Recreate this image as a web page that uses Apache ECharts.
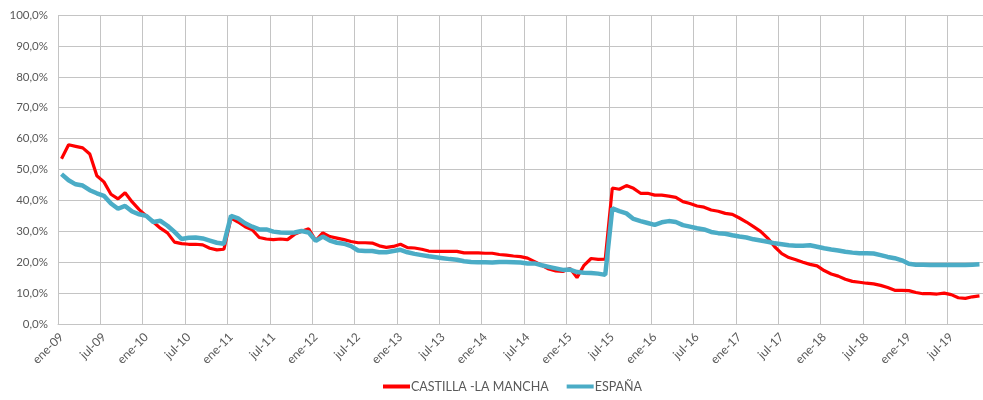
<!DOCTYPE html>
<html>
<head>
<meta charset="utf-8">
<script src="https://cdn.jsdelivr.net/npm/echarts@6/dist/echarts.min.js"></script>
<style>
html,body{margin:0;padding:0;background:#fff;}
#chart{width:983px;height:400px;}
</style>
</head>
<body>
<div id="chart"></div>
<script>
const monthNames = ['ene','feb','mar','abr','may','jun','jul','ago','sep','oct','nov','dic'];
const years = ['09','10','11','12','13','14','15','16','17','18','19'];
const lastMonthCount = 11; // data ends nov-19
const categories = [];
years.forEach((y, yi) => {
  const n = yi === years.length - 1 ? lastMonthCount : 12;
  for (let m = 0; m < n; m++) categories.push(monthNames[m] + '-' + y);
});

const castillaLaMancha = [
  53.5, 58, 57.5, 57, 55, 48, 46, 42, 40.5, 42.5, 39.5, 37,
  35, 33, 31, 29.5, 26.5, 26, 25.8, 25.8, 25.6, 24.5, 24, 24.2,
  34.3, 33, 31.5, 30.5, 28, 27.5, 27.3, 27.5, 27.3, 29, 30, 30.8,
  27, 29.5, 28.3, 27.8, 27.3, 26.7, 26.3, 26.3, 26.2, 25.3, 24.8, 25.1,
  25.8, 24.7, 24.6, 24.2, 23.6, 23.5, 23.5, 23.5, 23.5, 23, 23, 23,
  22.9, 22.9, 22.5, 22.3, 22, 21.8, 21.3, 20.2, 19, 17.8, 17.2, 17,
  18, 15, 19, 21.2, 20.9, 21, 44, 43.6, 44.8, 43.9, 42.3, 42.3,
  41.7, 41.7, 41.4, 41, 39.6, 39, 38.2, 37.8, 36.9, 36.5, 35.8, 35.5,
  34.3, 33, 31.5, 30, 27.8, 25, 22.8, 21.5, 20.8, 20, 19.3, 18.8,
  17.3, 16.2, 15.5, 14.5, 13.8, 13.5, 13.2, 13, 12.5, 11.8, 10.9, 10.9,
  10.8, 10.2, 9.8, 9.8, 9.7, 10, 9.5, 8.5, 8.3, 8.8, 9.1
];

const espana = [
  48.5, 46.5, 45.2, 44.8, 43.3, 42.3, 41.5, 39, 37.3, 38.2, 36.4, 35.5,
  35, 33, 33.4, 31.8, 29.8, 27.5, 27.9, 28, 27.7, 27, 26.3, 26,
  35, 34.2, 32.6, 31.5, 30.6, 30.6, 29.9, 29.6, 29.5, 29.6, 30.1, 29.6,
  26.9, 28.3, 27, 26.3, 26, 25.2, 23.8, 23.6, 23.6, 23.2, 23.2, 23.6,
  24, 23.2, 22.7, 22.3, 21.9, 21.6, 21.3, 21, 20.8, 20.3, 20.1, 20,
  20, 19.9, 20.1, 20.1, 20, 19.9, 19.6, 19.6, 19, 18.5, 18, 17.5,
  17.6, 16.8, 16.6, 16.5, 16.3, 15.9, 37.4, 36.5, 35.8, 34, 33.3, 32.7,
  32.1, 32.9, 33.3, 33, 32, 31.5, 31, 30.6, 29.8, 29.4, 29.2, 28.7,
  28.3, 28, 27.4, 27, 26.6, 26.1, 25.8, 25.5, 25.3, 25.3, 25.5, 25,
  24.5, 24.1, 23.8, 23.4, 23.1, 22.9, 22.9, 22.8, 22.3, 21.7, 21.3, 20.6,
  19.5, 19.2, 19.2, 19.1, 19.1, 19.1, 19.1, 19.1, 19.1, 19.2, 19.3
];

const seriesNames = ['CASTILLA -LA MANCHA', 'ESPAÑA'];

const chart = echarts.init(document.getElementById('chart'), null, {renderer: 'canvas'});
const textColor = '#595959';
const gridColor = '#c4c4c4';
const font = 'Lato, "Open Sans", sans-serif';

chart.setOption({
  animation: false,
  textStyle: {fontFamily: font},
  grid: {left: 58, right: 0, top: 15, bottom: 76, containLabel: false},
  legend: {
    bottom: 2,
    left: 378,
    itemWidth: 27,
    itemHeight: 4,
    itemGap: 18,
    icon: 'rect',
    textStyle: {color: textColor, fontSize: 12.5, fontFamily: font, padding: [0, 0, 0, -4]},
    data: seriesNames
  },
  xAxis: {
    type: 'category',
    data: categories,
    boundaryGap: true,
    axisLine: {show: true, lineStyle: {color: gridColor, width: 1}},
    axisTick: {show: false},
    axisLabel: {
      interval: 5,
      rotate: 45,
      color: textColor,
      fontSize: 12,
      fontFamily: font,
      margin: 11
    },
    splitLine: {show: true, interval: 5, lineStyle: {color: gridColor, width: 1}}
  },
  yAxis: {
    type: 'value',
    min: 0,
    max: 100,
    interval: 10,
    axisLine: {show: false},
    axisTick: {show: false},
    axisLabel: {
      color: textColor,
      fontSize: 11.5,
      fontFamily: font,
      margin: 10,
      formatter: v => v.toFixed(1).replace('.', ',') + '%'
    },
    splitLine: {show: true, lineStyle: {color: gridColor, width: 1}}
  },
  series: [
    {
      name: seriesNames[0],
      type: 'line',
      data: castillaLaMancha,
      symbol: 'none',
      color: '#ff0000',
      lineStyle: {color: '#ff0000', width: 3.2},
      z: 2
    },
    {
      name: seriesNames[1],
      type: 'line',
      data: espana,
      symbol: 'none',
      color: '#4bacc6',
      lineStyle: {color: '#4bacc6', width: 4.5},
      z: 3
    }
  ]
});
</script>
</body>
</html>
